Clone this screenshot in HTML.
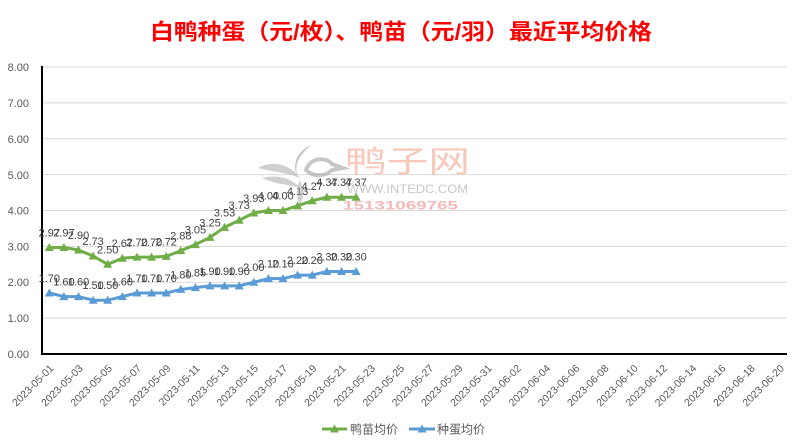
<!DOCTYPE html>
<html><head><meta charset="utf-8"><style>
html,body{margin:0;padding:0;background:#fff;}
svg{display:block;}
text{font-family:"Liberation Sans","Noto Sans CJK SC",sans-serif;}
</style></head><body>
<svg width="800" height="445" viewBox="0 0 800 445" xmlns="http://www.w3.org/2000/svg">
<defs>
<marker id="mg" markerUnits="userSpaceOnUse" markerWidth="12" markerHeight="12" refX="6" refY="6" orient="0"><polygon points="6,1.5 1.5,9.5 10.5,9.5" fill="#70ad47"/></marker>
<marker id="mb" markerUnits="userSpaceOnUse" markerWidth="12" markerHeight="12" refX="6" refY="6" orient="0"><polygon points="6,1.5 1.5,9.5 10.5,9.5" fill="#5b9bd5"/></marker>
</defs>
<rect width="800" height="445" fill="#fff"/>
<text x="150" y="39.5" font-size="22" font-weight="bold" fill="#ff0000" textLength="502" lengthAdjust="spacingAndGlyphs" style="font-family:'Liberation Sans','Noto Sans CJK SC',sans-serif">白鸭种蛋（元/枚）、鸭苗（元/羽）最近平均价格</text>

<!-- gridlines -->
<g stroke="#d9d9d9" stroke-width="1">
<line x1="42" y1="67" x2="787" y2="67"/>
<line x1="42" y1="102.9" x2="787" y2="102.9"/>
<line x1="42" y1="138.75" x2="787" y2="138.75"/>
<line x1="42" y1="174.6" x2="787" y2="174.6"/>
<line x1="42" y1="210.5" x2="787" y2="210.5"/>
<line x1="42" y1="246.4" x2="787" y2="246.4"/>
<line x1="42" y1="282.25" x2="787" y2="282.25"/>
<line x1="42" y1="318.1" x2="787" y2="318.1"/>
</g>
<g stroke="#000" stroke-width="2">
<line x1="42" y1="66" x2="42" y2="355"/>
<line x1="41" y1="354" x2="787" y2="354"/>
</g>

<!-- y labels -->
<g font-size="11" fill="#595959" text-anchor="end">
<text x="29" y="71">8.00</text>
<text x="29" y="107">7.00</text>
<text x="29" y="143">6.00</text>
<text x="29" y="179">5.00</text>
<text x="29" y="214.5">4.00</text>
<text x="29" y="250.5">3.00</text>
<text x="29" y="286">2.00</text>
<text x="29" y="322">1.00</text>
<text x="29" y="358">0.00</text>
</g>

<!-- x labels -->
<g font-size="10.5" fill="#595959" text-anchor="end">
<text transform="translate(54.3,369) rotate(-45)">2023-05-01</text>
<text transform="translate(83.5,369) rotate(-45)">2023-05-03</text>
<text transform="translate(112.7,369) rotate(-45)">2023-05-05</text>
<text transform="translate(142,369) rotate(-45)">2023-05-07</text>
<text transform="translate(171.2,369) rotate(-45)">2023-05-09</text>
<text transform="translate(200.4,369) rotate(-45)">2023-05-11</text>
<text transform="translate(229.6,369) rotate(-45)">2023-05-13</text>
<text transform="translate(258.8,369) rotate(-45)">2023-05-15</text>
<text transform="translate(288,369) rotate(-45)">2023-05-17</text>
<text transform="translate(317.2,369) rotate(-45)">2023-05-19</text>
<text transform="translate(346.5,369) rotate(-45)">2023-05-21</text>
<text transform="translate(375.7,369) rotate(-45)">2023-05-23</text>
<text transform="translate(404.9,369) rotate(-45)">2023-05-25</text>
<text transform="translate(434.1,369) rotate(-45)">2023-05-27</text>
<text transform="translate(463.3,369) rotate(-45)">2023-05-29</text>
<text transform="translate(492.5,369) rotate(-45)">2023-05-31</text>
<text transform="translate(521.8,369) rotate(-45)">2023-06-02</text>
<text transform="translate(551,369) rotate(-45)">2023-06-04</text>
<text transform="translate(580.2,369) rotate(-45)">2023-06-06</text>
<text transform="translate(609.4,369) rotate(-45)">2023-06-08</text>
<text transform="translate(638.6,369) rotate(-45)">2023-06-10</text>
<text transform="translate(667.8,369) rotate(-45)">2023-06-12</text>
<text transform="translate(697.1,369) rotate(-45)">2023-06-14</text>
<text transform="translate(726.3,369) rotate(-45)">2023-06-16</text>
<text transform="translate(755.5,369) rotate(-45)">2023-06-18</text>
<text transform="translate(784.7,369) rotate(-45)">2023-06-20</text>
</g>

<!-- series -->
<polyline fill="none" stroke="#70ad47" stroke-width="3" stroke-linejoin="round" marker-start="url(#mg)" marker-mid="url(#mg)" marker-end="url(#mg)" points="49.3,247.45 63.9,247.45 78.5,249.96 93.1,256.06 107.7,264.31 122.3,258.21 137,257.14 151.6,257.14 166.2,256.42 180.8,250.68 195.4,244.58 210,237.41 224.6,227.36 239.2,220.19 253.8,213.01 268.4,210.5 283,210.5 297.6,205.84 312.2,200.81 326.9,197.23 341.5,197.23 356.1,197.23"/>
<polyline fill="none" stroke="#5b9bd5" stroke-width="3" stroke-linejoin="round" marker-start="url(#mb)" marker-mid="url(#mb)" marker-end="url(#mb)" points="49.3,293.01 63.9,296.6 78.5,296.6 93.1,300.19 107.7,300.19 122.3,296.6 137,293.01 151.6,293.01 166.2,293.01 180.8,289.43 195.4,287.63 210,285.84 224.6,285.84 239.2,285.84 253.8,282.25 268.4,278.66 283,278.66 297.6,275.08 312.2,275.08 326.9,271.49 341.5,271.49 356.1,271.49"/>

<!-- data labels green -->
<g font-size="11" fill="#404040" text-anchor="middle">
<text x="49.3" y="236.5">2.97</text>
<text x="63.9" y="236.5">2.97</text>
<text x="78.5" y="239">2.90</text>
<text x="93.1" y="245">2.73</text>
<text x="107.7" y="253.3">2.50</text>
<text x="122.3" y="247.2">2.67</text>
<text x="137" y="246.1">2.70</text>
<text x="151.6" y="246.1">2.70</text>
<text x="166.2" y="245.4">2.72</text>
<text x="180.8" y="239.7">2.88</text>
<text x="195.4" y="233.6">3.05</text>
<text x="210" y="226.4">3.25</text>
<text x="224.6" y="216.4">3.53</text>
<text x="239.2" y="209.2">3.73</text>
<text x="253.8" y="202">3.93</text>
<text x="268.4" y="199.5">4.00</text>
<text x="283" y="199.5">4.00</text>
<text x="297.6" y="194.8">4.13</text>
<text x="312.2" y="189.8">4.27</text>
<text x="326.9" y="186.2">4.37</text>
<text x="341.5" y="186.2">4.37</text>
<text x="356.1" y="186.2">4.37</text>
</g>
<!-- data labels blue -->
<g font-size="11" fill="#404040" text-anchor="middle">
<text x="49.3" y="282">1.70</text>
<text x="63.9" y="285.6">1.60</text>
<text x="78.5" y="285.6">1.60</text>
<text x="93.1" y="289.2">1.50</text>
<text x="107.7" y="289.2">1.50</text>
<text x="122.3" y="285.6">1.60</text>
<text x="137" y="282">1.70</text>
<text x="151.6" y="282">1.70</text>
<text x="166.2" y="282">1.70</text>
<text x="180.8" y="278.4">1.80</text>
<text x="195.4" y="276.6">1.85</text>
<text x="210" y="274.8">1.90</text>
<text x="224.6" y="274.8">1.90</text>
<text x="239.2" y="274.8">1.90</text>
<text x="253.8" y="271.2">2.00</text>
<text x="268.4" y="267.7">2.10</text>
<text x="283" y="267.7">2.10</text>
<text x="297.6" y="264.1">2.20</text>
<text x="312.2" y="264.1">2.20</text>
<text x="326.9" y="260.5">2.30</text>
<text x="341.5" y="260.5">2.30</text>
<text x="356.1" y="260.5">2.30</text>
</g>

<!-- watermark -->
<g opacity="0.55">
<path d="M312,145 C296,150 290,168 300,180 C292,168 298,155 312,145 Z" fill="#9a9a9a"/>
<path d="M306,170 C310,158 325,156 332,164 L343,168 L332,170 C326,176 314,178 306,170 Z" fill="none" stroke="#9a9a9a" stroke-width="4"/>
<path d="M258,168 C272,160 290,164 300,178 C286,172 272,172 258,168 Z" fill="#a8a8a8"/>
<path d="M262,178 C276,174 292,178 300,188 C286,184 274,184 262,178 Z" fill="#a8a8a8"/>
<path d="M300,180 C304,190 304,198 300,205 C296,196 296,188 300,180 Z" fill="#a8a8a8"/>
</g>
<text x="345" y="172" font-size="30" fill="#f4a48e" opacity="0.6" textLength="125" lengthAdjust="spacingAndGlyphs" style="font-family:'Liberation Sans','Noto Sans CJK SC',sans-serif">鸭子网</text>
<text x="347" y="193" font-size="11.5" fill="#c8c8c8" textLength="121" lengthAdjust="spacingAndGlyphs">WWW.INTEDC.COM</text>
<text x="343" y="209.5" font-size="12" font-weight="bold" fill="#f08a8a" opacity="0.6" textLength="115" lengthAdjust="spacingAndGlyphs">15131069765</text>

<!-- legend -->
<line x1="322" y1="429" x2="347" y2="429" stroke="#70ad47" stroke-width="3"/>
<polygon points="334.5,424.5 330,432.5 339,432.5" fill="#70ad47"/>
<text x="350" y="433.5" font-size="12" fill="#595959" style="font-family:'Liberation Sans','Noto Sans CJK SC',sans-serif">鸭苗均价</text>
<line x1="409" y1="429" x2="435" y2="429" stroke="#5b9bd5" stroke-width="3"/>
<polygon points="422,424.5 417.5,432.5 426.5,432.5" fill="#5b9bd5"/>
<text x="437" y="433.5" font-size="12" fill="#595959" style="font-family:'Liberation Sans','Noto Sans CJK SC',sans-serif">种蛋均价</text>
</svg>
</body></html>
